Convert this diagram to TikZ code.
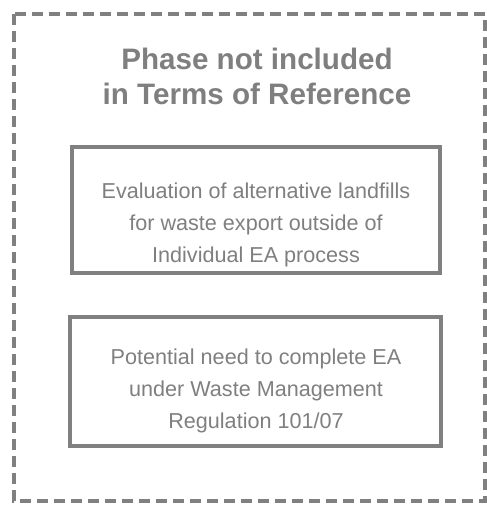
\documentclass[tikz,border=0pt]{standalone}
\usepackage{fontspec}
\setmainfont{Liberation Sans}
\definecolor{boxgray}{HTML}{808080}
\definecolor{txtgray}{HTML}{7F7F7F}
\begin{document}
\begin{tikzpicture}[x=1pt,y=-1pt,
  outerbox/.style={draw=boxgray,line width=4pt,dash pattern=on 11pt off 6pt},
  innerbox/.style={draw=boxgray,line width=4pt},
  bodytext/.style={text=txtgray,align=center,font=\fontsize{21.6}{32}\selectfont,inner sep=0pt},
  titletext/.style={text=txtgray,align=center,font=\fontsize{29.6}{35}\selectfont\bfseries,inner sep=0pt}]
\useasboundingbox (0,0) rectangle (487,507);
\draw[outerbox] (14,14) rectangle (485,501);
\node[titletext] (title) at (257,76) {Phase not included\\in Terms of Reference};
\draw[innerbox] (72,147) rectangle (440,273);
\node[bodytext] (t1) at (256,225) {Evaluation of alternative landfills\\for waste export outside of\\Individual EA process};
\draw[innerbox] (70,317) rectangle (441,446);
\node[bodytext] (t2) at (256,391) {Potential need to complete EA\\under Waste Management\\Regulation 101/07};
\end{tikzpicture}
\end{document}
